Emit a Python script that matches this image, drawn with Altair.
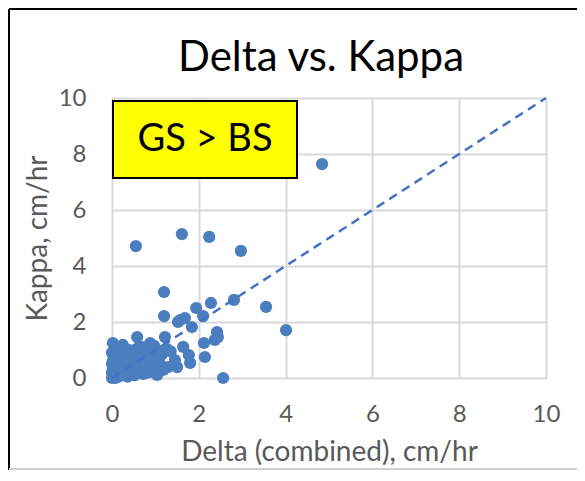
import altair as alt
import pandas as pd

# ---- data ----
delta = [4.84, 0.55, 1.61, 2.24, 2.97, 1.20, 1.20, 1.94, 2.28, 2.81, 3.55, 4.01, 2.56,
         1.68, 2.10, 1.57, 1.52, 1.84, 2.12, 2.14, 2.42, 2.44, 2.37, 1.22, 1.64, 1.77,
         1.45, 1.29, 1.18, 1.04, 0.88, 1.50, 1.80,
         0.02, 0.25, 0.58, 0.00, 0.05, 0.10, 0.15, 0.20, 0.30, 0.35, 0.40, 0.45, 0.50,
         0.55, 0.60, 0.65, 0.70, 0.75, 0.80, 0.85, 0.90, 0.95, 1.00, 1.05, 1.10, 0.00,
         0.03, 0.05, 0.08, 0.10, 0.12, 0.15, 0.18, 0.20, 0.22, 0.25, 0.28, 0.30, 0.33,
         0.36, 0.40, 0.42, 0.45, 0.50, 0.52, 0.55, 0.60, 0.62, 0.68, 0.72, 0.78, 0.85,
         0.92, 0.00, 0.00, 0.02, 0.07, 0.12, 0.17, 0.27, 0.38, 0.48, 0.58, 0.88, 1.15,
         1.25, 1.35, 0.97, 0.30, 0.20, 0.70, 0.95, 1.10, 0.40]
kappa = [7.64, 4.71, 5.14, 5.04, 4.54, 3.07, 2.21, 2.50, 2.68, 2.79, 2.54, 1.71, 0.00,
         2.14, 2.21, 2.07, 2.00, 1.82, 1.25, 0.75, 1.64, 1.46, 1.36, 1.46, 1.11, 0.82,
         0.64, 0.39, 0.29, 0.11, 1.25, 0.39, 0.54,
         1.25, 1.18, 1.46, 0.90, 0.80, 0.70, 0.85, 0.60, 0.75, 0.50, 0.65, 0.80, 0.55,
         0.70, 0.90, 0.40, 1.10, 0.60, 1.00, 0.45, 1.20, 0.80, 0.60, 1.00, 0.50, 0.50,
         0.30, 0.10, 0.00, 0.40, 0.20, 0.05, 0.35, 0.15, 0.50, 0.30, 0.10, 0.40, 0.20,
         0.05, 0.30, 0.15, 0.40, 0.25, 0.10, 0.35, 0.20, 0.50, 0.25, 0.15, 0.35, 0.20,
         0.30, 0.20, 0.00, 0.60, 0.55, 0.65, 0.45, 0.60, 0.85, 0.95, 1.05, 0.70, 0.85,
         1.05, 0.95, 1.15, 0.95, 1.00, 0.80, 0.40, 0.75, 1.00]
line_x = [0, 10]
line_y = [0, 10]
ticks = [0, 2, 4, 6, 8, 10]
title_text = ["Delta vs. Kappa"]
note_text = ["GS > BS"]

FONT = "Lato"
BLUE = "#4a7ebf"
GRAY_TXT = "#595959"

pts = pd.DataFrame({"delta": delta, "kappa": kappa})
ln = pd.DataFrame({"delta": line_x, "kappa": line_y})

xs = alt.Scale(domain=[0, 10], nice=False)
ys = alt.Scale(domain=[0, 10], nice=False)

xaxis = alt.Axis(values=ticks, title="Delta (combined), cm/hr", grid=True,
                 gridColor="#d9d9d9", gridWidth=2, domain=False, ticks=False,
                 labelFontSize=24, labelColor=GRAY_TXT, labelFont=FONT, labelPadding=24,
                 labelFlush=False,
                 titleFontSize=28, titleColor=GRAY_TXT, titleFont=FONT,
                 titleFontWeight="normal", titlePadding=12)
yaxis = alt.Axis(values=ticks, title="Kappa, cm/hr", grid=True,
                 gridColor="#d9d9d9", gridWidth=2, domain=False, ticks=False,
                 labelFontSize=24, labelColor=GRAY_TXT, labelFont=FONT, labelPadding=26,
                 labelFlush=False,
                 titleFontSize=28, titleColor=GRAY_TXT, titleFont=FONT,
                 titleFontWeight="normal", titlePadding=6)

points = alt.Chart(pts).mark_circle(size=150, color=BLUE, opacity=1).encode(
    x=alt.X("delta:Q", scale=xs, axis=xaxis),
    y=alt.Y("kappa:Q", scale=ys, axis=yaxis),
)

diag = alt.Chart(ln).mark_line(color="#4472c4", strokeWidth=2.5, strokeDash=[9, 6]).encode(
    x=alt.X("delta:Q", scale=xs),
    y=alt.Y("kappa:Q", scale=ys),
)

box = alt.Chart(pd.DataFrame({"t": note_text})).mark_rect(
    fill="#ffff00", stroke="black", strokeWidth=2
).encode(x=alt.value(1), x2=alt.value(185), y=alt.value(3), y2=alt.value(80))

box_text = alt.Chart(pd.DataFrame({"t": note_text})).mark_text(
    font=FONT, fontSize=38, color="black", align="center", baseline="middle"
).encode(text="t:N", x=alt.value(93), y=alt.value(42))

title = alt.Chart(pd.DataFrame({"t": title_text})).mark_text(
    font=FONT, fontSize=42, color="black", align="center", baseline="alphabetic"
).encode(text="t:N", x=alt.value(209), y=alt.value(-27))

frame_left = alt.Chart(pd.DataFrame({"t": [0]})).mark_rule(color="black", strokeWidth=2).encode(
    x=alt.value(-103), y=alt.value(-89), y2=alt.value(372))
frame_top = alt.Chart(pd.DataFrame({"t": [0]})).mark_rule(color="black", strokeWidth=2).encode(
    x=alt.value(-103), x2=alt.value(470), y=alt.value(-89))
frame_bottom = alt.Chart(pd.DataFrame({"t": [0]})).mark_rule(color="#d0d0d0", strokeWidth=2).encode(
    x=alt.value(-103), x2=alt.value(470), y=alt.value(371))

chart = alt.layer(points, diag, box, box_text, title,
                  frame_left, frame_top, frame_bottom).properties(
    width=434, height=280,
    autosize=alt.AutoSizeParams(type="none"),
    padding={"left": 104, "top": 90, "right": 31, "bottom": 92},
).configure_view(stroke=None)

chart.save("out.html", embed_options={"renderer": "svg", "actions": False})
